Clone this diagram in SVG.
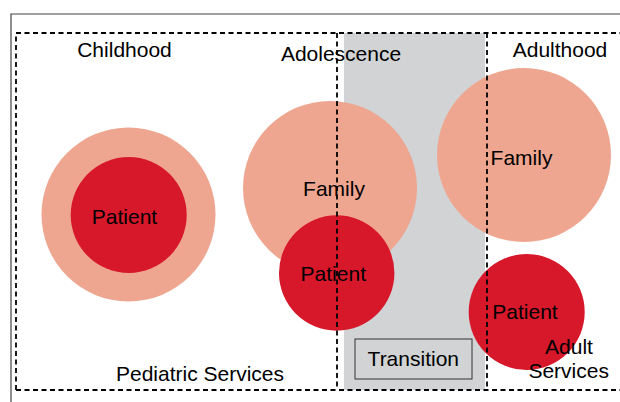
<svg xmlns="http://www.w3.org/2000/svg" width="620" height="402" viewBox="0 0 620 402">
  <style>
    .lbl { font-family: "Liberation Sans", Arial, sans-serif; font-size: 21px; fill: #000; text-anchor: middle; }
    .fam { fill: #EEA690; }
    .pat { fill: #D7182A; }
    .dash { fill: none; stroke: #000; stroke-width: 1.8; stroke-dasharray: 5 3.5; }
  </style>
  <rect width="620" height="402" fill="#fff"/>
  <g id="frame">
    <path d="M11 402 V14 H620" fill="none" stroke="#444" stroke-width="1.2"/>
  </g>
  <g id="transition-zone">
    <rect x="344" y="33" width="141" height="357" fill="#D1D3D4"/>
  </g>
  <g id="childhood">
    <circle class="fam" cx="128.5" cy="214.5" r="87"/>
    <circle class="pat" cx="128.7" cy="215" r="58"/>
    <text class="lbl" x="124.5" y="224">Patient</text>
  </g>
  <g id="adolescence">
    <circle class="fam" cx="330" cy="188" r="87"/>
    <circle class="pat" cx="336.7" cy="273" r="57.7"/>
  </g>
  <g id="adulthood">
    <circle class="fam" cx="524" cy="155" r="87"/>
    <circle class="pat" cx="526.7" cy="312" r="58"/>
  </g>
  <g id="connectors">
    <path class="dash" d="M16 390 V33 H622 M16 390 H622"/>
    <path class="dash" d="M337 33 V390 M487 33 V390"/>
  </g>
  <g id="labels">
    <text class="lbl" x="124.5" y="57">Childhood</text>
    <text class="lbl" x="341" y="61">Adolescence</text>
    <text class="lbl" x="560" y="57">Adulthood</text>
    <text class="lbl" x="334" y="196">Family</text>
    <text class="lbl" x="333.3" y="281">Patient</text>
    <text class="lbl" x="521.5" y="165">Family</text>
    <text class="lbl" x="525" y="319">Patient</text>
    <text class="lbl" x="569" y="354">Adult</text>
    <text class="lbl" x="568.7" y="378">Services</text>
    <text class="lbl" x="200" y="381">Pediatric Services</text>
  </g>
  <g id="transition">
    <rect x="355" y="339" width="117" height="40" fill="none" stroke="#333" stroke-width="1"/>
    <text class="lbl" x="413.3" y="366">Transition</text>
  </g>
</svg>
